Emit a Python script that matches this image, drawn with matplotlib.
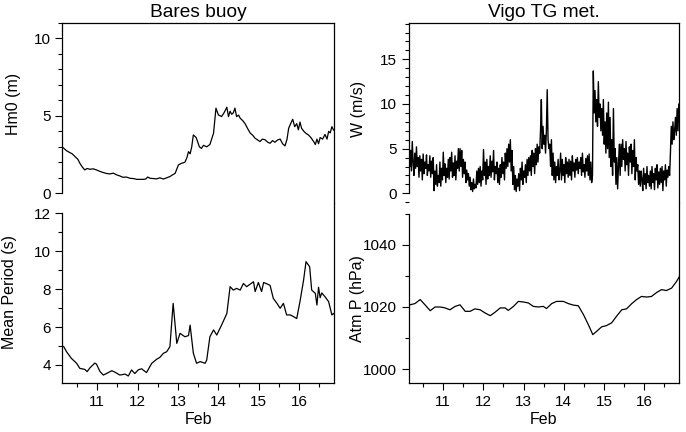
import numpy as np
import matplotlib
matplotlib.use("Agg")
import matplotlib.pyplot as plt
from matplotlib.ticker import MultipleLocator

plt.rcParams['font.family'] = ['Liberation Sans', 'DejaVu Sans']
plt.rcParams['font.size'] = 11.5

# Bares buoy: significant wave height (m)
hm0_day = [10.13, 10.17, 10.24, 10.32, 10.38, 10.45, 10.52, 10.57, 10.63, 10.69, 10.75, 10.82, 10.90,
           10.98, 11.06, 11.15, 11.23, 11.31, 11.40, 11.48, 11.56, 11.64, 11.72, 11.81, 11.90,
           11.98, 12.06, 12.14, 12.20, 12.25, 12.31, 12.39, 12.47, 12.55, 12.64, 12.72, 12.80,
           12.87, 12.93, 13.01, 13.09, 13.17, 13.22, 13.26, 13.30, 13.34, 13.38, 13.45, 13.53,
           13.58, 13.63, 13.71, 13.79, 13.88, 13.94, 14.00, 14.08, 14.14, 14.21, 14.25, 14.29,
           14.33, 14.37, 14.41, 14.45, 14.50, 14.54, 14.60, 14.66, 14.72, 14.79, 14.85, 14.91,
           14.97, 15.03, 15.09, 15.16, 15.22, 15.28, 15.34, 15.40, 15.47, 15.53, 15.59, 15.65,
           15.70, 15.74, 15.79, 15.84, 15.89, 15.94, 15.98, 16.02, 16.06, 16.12, 16.18, 16.23,
           16.29, 16.36, 16.40, 16.44, 16.48, 16.52, 16.58, 16.64, 16.69, 16.73, 16.77, 16.81,
           16.85, 16.88]
hm0_val = [3.0, 2.91, 2.75, 2.63, 2.55, 2.37, 2.2, 1.94, 1.7, 1.51, 1.6, 1.55, 1.58,
           1.51, 1.42, 1.34, 1.28, 1.25, 1.3, 1.19, 1.12, 1.03, 1.05, 0.97, 0.95,
           0.9, 0.9, 0.9, 0.92, 1.05, 0.97, 0.95, 0.93, 1.0, 0.92, 1.0, 1.08,
           1.2, 1.29, 1.83, 1.94, 2.0, 2.3, 2.69, 2.55, 3.0, 3.77, 3.6, 3.0,
           2.9, 3.1, 3.0, 3.15, 3.88, 5.5, 5.06, 4.96, 5.2, 5.56, 4.95, 5.3,
           5.1, 5.2, 5.5, 4.95, 5.05, 4.85, 4.7, 4.5, 4.2, 3.88, 3.75, 3.55,
           3.45, 3.34, 3.5, 3.45, 3.3, 3.23, 3.4, 3.3, 3.45, 3.5, 3.2, 3.06,
           3.5, 4.2, 4.5, 4.78, 4.3, 4.5, 4.1, 4.6, 4.2, 3.99, 3.85, 3.77,
           3.6, 3.34, 3.15, 3.5, 3.2, 3.6, 3.5, 3.8, 3.5, 4.0, 3.9, 4.3,
           4.1, 4.0]

# Bares buoy: mean wave period (s)
tm_day = [10.13, 10.17, 10.24, 10.36, 10.49, 10.57, 10.69, 10.75, 10.82, 10.94, 10.98, 11.07,
          11.15, 11.23, 11.36, 11.44, 11.56, 11.69, 11.77, 11.85, 11.93, 12.02, 12.10, 12.22,
          12.35, 12.47, 12.55, 12.64, 12.72, 12.80, 12.88, 12.97, 13.05, 13.17, 13.26, 13.30,
          13.38, 13.46, 13.55, 13.67, 13.71, 13.79, 13.88, 13.96, 14.08, 14.21, 14.29, 14.37,
          14.45, 14.54, 14.62, 14.70, 14.87, 14.91, 14.99, 15.07, 15.12, 15.20, 15.28, 15.36,
          15.45, 15.53, 15.61, 15.69, 15.78, 15.86, 15.94, 16.02, 16.11, 16.17, 16.26, 16.31,
          16.40, 16.44, 16.48, 16.52, 16.56, 16.64, 16.73, 16.81, 16.85, 16.88]
tm_val = [5.0, 4.97, 4.70, 4.35, 4.09, 3.82, 3.77, 3.65, 3.85, 4.1, 4.05, 3.65,
          3.47, 3.55, 3.70, 3.62, 3.47, 3.52, 3.42, 3.74, 3.55, 3.75, 3.8, 3.6,
          4.09, 4.3, 4.4, 4.62, 4.7, 4.97, 7.25, 5.14, 5.67, 5.49, 5.55, 6.1,
          4.62, 4.09, 4.18, 4.09, 4.25, 5.49, 5.85, 5.58, 6.11, 6.72, 8.13, 7.95,
          8.04, 7.95, 8.3, 8.13, 8.39, 7.87, 8.35, 7.87, 8.35, 8.28, 8.2, 7.51,
          7.25, 6.99, 7.25, 6.64, 6.64, 6.55, 6.45, 7.34, 8.48, 9.45, 9.18, 7.95,
          7.78, 7.16, 8.1, 7.55, 7.8, 7.6, 7.34, 6.64, 6.72, 6.64]

# Vigo tide gauge: wind speed (m/s), half-hourly from 10.15
w_start = 10.15
w_val = [6.2, 3.0, 4.8, 2.5, 5.8, 3.5, 2.0, 4.5, 2.8, 5.2, 3.0, 4.0,
         1.8, 4.2, 2.5, 3.8, 1.5, 4.4, 2.2, 3.5, 2.8, 4.3, 2.0, 3.2,
         2.5, 4.2, 1.8, 3.6, 2.2, 4.0, 0.3, 2.5, 1.0, 3.2, 0.8, 2.0,
         1.2, 3.5, 0.8, 2.8, 1.5, 4.6, 2.0, 3.3, 1.2, 2.8, 1.8, 3.8,
         1.6, 4.0, 2.5, 4.6, 1.8, 3.4, 2.0, 4.2, 1.5, 3.6, 2.8, 5.0,
         2.5, 5.0, 3.0, 4.8, 1.8, 3.8, 2.2, 3.5, 1.2, 2.6, 1.5, 2.2,
         0.8, 1.8, 0.4, 1.2, 0.2, 1.6, 0.5, 1.0, 0.6, 2.5, 1.0, 2.8,
         1.2, 3.0, 0.8, 2.5, 1.5, 4.9, 2.0, 3.5, 1.0, 3.8, 1.6, 3.0,
         2.0, 4.2, 1.8, 3.6, 2.4, 4.8, 1.5, 3.0, 2.2, 3.5, 1.2, 2.8,
         1.0, 3.2, 1.8, 4.0, 2.2, 3.5, 1.5, 4.5, 2.8, 5.0, 3.0, 5.5,
         3.5, 6.0, 2.5, 4.8, 1.0, 3.0, 0.4, 2.0, 0.2, 1.6, 0.8, 2.2,
         0.3, 2.8, 1.5, 3.5, 1.0, 2.5, 1.8, 3.2, 1.2, 3.8, 2.0, 4.0,
         2.5, 4.2, 2.0, 4.8, 3.0, 4.5, 2.2, 5.0, 3.2, 5.5, 3.5, 5.2,
         4.5, 7.0, 10.5, 5.0, 7.5, 5.5, 6.5, 4.5, 7.0, 11.6, 6.0, 5.0,
         5.5, 3.0, 6.0, 2.0, 4.5, 1.5, 3.5, 1.2, 3.0, 2.0, 3.8, 1.5,
         2.5, 4.5, 1.5, 3.8, 2.0, 3.2, 1.2, 4.0, 2.2, 3.5, 1.8, 3.8,
         2.0, 3.6, 1.5, 4.2, 2.5, 3.4, 1.8, 3.8, 2.6, 4.0, 2.2, 3.5,
         2.8, 4.0, 2.0, 4.5, 2.4, 3.2, 1.8, 3.9, 2.5, 4.2, 2.0, 4.4,
         1.5, 3.5, 1.2, 2.0, 13.7, 9.0, 11.5, 8.0, 10.5, 7.5, 12.5, 8.5,
         10.0, 7.0, 9.5, 6.5, 10.5, 5.5, 8.0, 4.5, 9.0, 5.0, 10.2, 4.0,
         8.5, 3.0, 6.0, 2.0, 9.5, 3.5, 5.0, 1.0, 4.0, 0.5, 3.0, 5.5,
         2.0, 5.5, 3.0, 6.0, 3.8, 5.0, 2.5, 5.8, 3.2, 4.5, 2.0, 5.2,
         3.5, 5.5, 2.2, 4.8, 3.0, 6.0, 1.5, 4.0, 2.5, 3.2, 1.0, 2.5,
         0.8, 2.5, 1.5, 0.3, 2.8, 1.0, 2.2, 0.5, 3.0, 1.2, 2.0, 0.8,
         2.5, 0.5, 3.0, 1.2, 2.2, 0.4, 2.8, 1.5, 3.2, 0.6, 2.4, 1.0,
         2.8, 1.2, 3.0, 0.3, 2.5, 1.5, 3.2, 0.8, 2.6, 1.8, 3.0, 2.0,
         4.5, 7.5, 5.5, 8.0, 6.0, 7.0, 8.5, 6.5, 9.5, 7.0, 10.0, 8.0]

# Vigo tide gauge: atmospheric pressure (hPa)
p_day = [10.13, 10.18, 10.30, 10.43, 10.55, 10.68, 10.80, 10.93, 11.05, 11.17, 11.30, 11.42,
         11.55, 11.67, 11.79, 11.92, 12.04, 12.17, 12.29, 12.42, 12.54, 12.62, 12.75, 12.87,
         13.00, 13.12, 13.24, 13.37, 13.49, 13.57, 13.70, 13.82, 13.99, 14.11, 14.24, 14.36,
         14.49, 14.61, 14.72, 14.82, 14.94, 15.06, 15.19, 15.31, 15.44, 15.56, 15.69, 15.81,
         15.93, 16.06, 16.18, 16.31, 16.43, 16.55, 16.68, 16.80, 16.90]
p_val = [1020.8, 1020.7, 1021.1, 1022.4, 1020.7, 1018.8, 1020.0, 1020.0, 1019.7, 1019.1, 1020.2, 1020.7,
         1018.6, 1018.6, 1019.4, 1019.1, 1018.1, 1017.2, 1018.3, 1019.7, 1019.7, 1018.9, 1020.2, 1021.8,
         1021.6, 1021.3, 1020.2, 1020.0, 1020.2, 1019.5, 1021.1, 1021.8, 1021.8, 1021.1, 1020.6, 1020.4,
         1017.5, 1014.3, 1011.1, 1012.2, 1013.6, 1014.0, 1014.9, 1017.0, 1019.1, 1019.4, 1021.1, 1022.4,
         1023.4, 1023.2, 1023.4, 1024.7, 1025.6, 1025.3, 1026.1, 1028.2, 1030.4]

w_day = w_start + np.arange(len(w_val)) / 48.0
xlim = (10.14, 16.875)

fig = plt.figure(figsize=(6.86, 4.32), dpi=100)


def style_pair(ax_top, ax_bot, top_lim, top_bounds, bot_lim, bot_bounds):
    for ax in (ax_top, ax_bot):
        ax.set_xlim(*xlim)
        ax.tick_params(direction='out', length=5, width=0.8, which='major', labelsize=11)
        ax.tick_params(direction='out', length=3, width=0.8, which='minor')
        for s in ax.spines.values():
            s.set_linewidth(0.9)
        ax.xaxis.set_major_locator(MultipleLocator(1))
        ax.xaxis.set_minor_locator(MultipleLocator(0.5))
    ax_top.set_ylim(*top_lim)
    ax_bot.set_ylim(*bot_lim)
    ax_top.spines['bottom'].set_visible(False)
    ax_bot.spines['top'].set_visible(False)
    ax_top.spines['left'].set_bounds(*top_bounds)
    ax_bot.spines['left'].set_bounds(*bot_bounds)
    ax_top.tick_params(axis='x', which='both', bottom=False, labelbottom=False)
    ax_bot.set_xlabel('Feb', labelpad=2)


# left column
ax1 = fig.add_axes([0.0911, 0.530, 0.3965, 0.4168])
ax2 = fig.add_axes([0.0911, 0.1134, 0.3965, 0.4166])
ax1.plot(hm0_day, hm0_val, color='black', lw=0.9)
ax2.plot(tm_day, tm_val, color='black', lw=0.9)
style_pair(ax1, ax2, (-0.63, 11.0), (0, 11.0), (3.05, 12.54), (3.05, 12))
ax1.yaxis.set_major_locator(MultipleLocator(5))
ax1.yaxis.set_minor_locator(MultipleLocator(1))
ax2.yaxis.set_major_locator(MultipleLocator(2))
ax2.yaxis.set_minor_locator(MultipleLocator(1))
ax1.set_title('Bares buoy', pad=4)
ax1.set_ylabel('Hm0 (m)')
ax2.set_ylabel('Mean Period (s)')
ax1.yaxis.set_label_coords(-0.153, 0.553)
ax2.yaxis.set_label_coords(-0.167, 0.505)

# right column
ax3 = fig.add_axes([0.5955, 0.530, 0.395, 0.4168])
ax4 = fig.add_axes([0.5955, 0.1134, 0.395, 0.4166])
ax3.plot(w_day, w_val, color='black', lw=1.0)
ax4.plot(p_day, p_val, color='black', lw=0.9)
style_pair(ax3, ax4, (-1.09, 19.07), (0, 19.07), (995.5, 1053.5), (995.5, 1050))
ax3.yaxis.set_major_locator(MultipleLocator(5))
ax3.yaxis.set_minor_locator(MultipleLocator(1))
ax4.yaxis.set_major_locator(MultipleLocator(20))
ax4.yaxis.set_minor_locator(MultipleLocator(10))
ax3.set_title('Vigo TG met.', pad=4)
ax3.set_ylabel('W (m/s)')
ax4.set_ylabel('Atm P (hPa)')
ax3.yaxis.set_label_coords(-0.157, 0.52)
ax4.yaxis.set_label_coords(-0.160, 0.47)

fig.savefig('out.png', dpi=100)
